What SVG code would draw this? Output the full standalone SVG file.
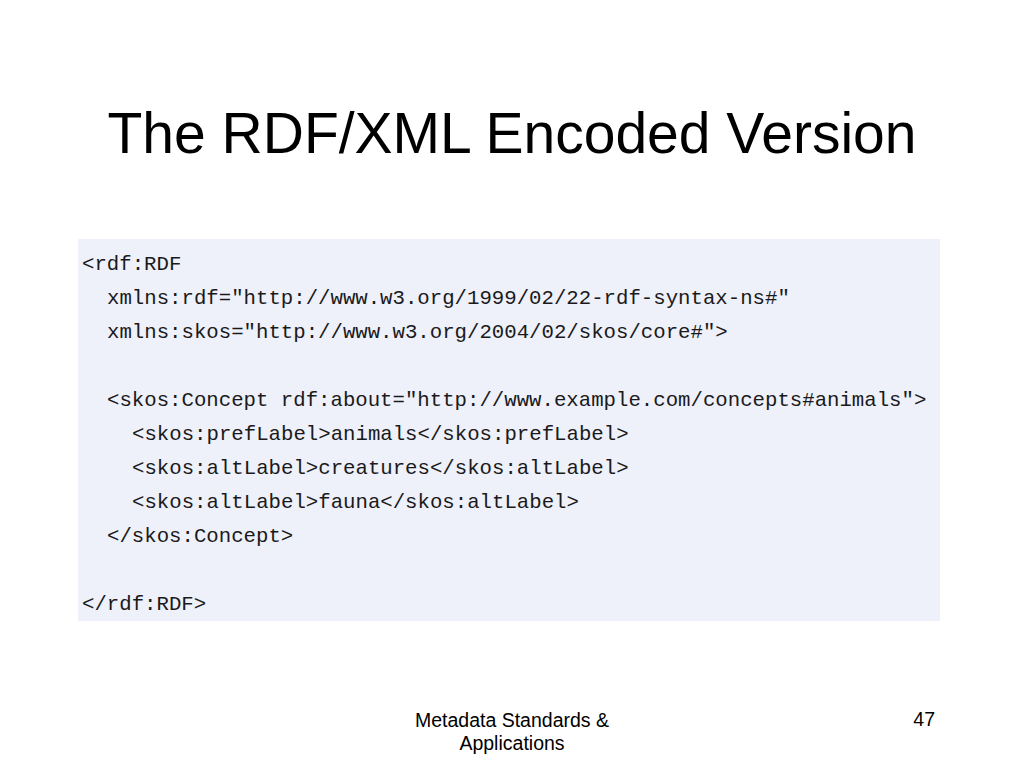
<svg xmlns="http://www.w3.org/2000/svg" width="1024" height="768" viewBox="0 0 1024 768">
<style>
.title{font-family:"Liberation Sans",Arial,sans-serif;font-size:57px;fill:#000}
.code{font-family:"Liberation Mono","Courier New",monospace;font-size:20.7px;fill:#1a1a1a}
.foot{font-family:"Liberation Sans",Arial,sans-serif;font-size:19.5px;fill:#000}
</style>
<rect width="1024" height="768" fill="#ffffff"/>
<text class="title" x="512" y="153" text-anchor="middle">The RDF/XML Encoded Version</text>
<g id="code-box">
<rect x="78" y="239" width="862" height="382" fill="#eef0fa"/>
<text class="code" x="82" y="270">&lt;rdf:RDF</text>
<text class="code" x="107" y="304">xmlns:rdf="http://www.w3.org/1999/02/22-rdf-syntax-ns#"</text>
<text class="code" x="107" y="338">xmlns:skos="http://www.w3.org/2004/02/skos/core#"&gt;</text>
<text class="code" x="107" y="406">&lt;skos:Concept rdf:about="http://www.example.com/concepts#animals"&gt;</text>
<text class="code" x="132" y="440">&lt;skos:prefLabel&gt;animals&lt;/skos:prefLabel&gt;</text>
<text class="code" x="132" y="474">&lt;skos:altLabel&gt;creatures&lt;/skos:altLabel&gt;</text>
<text class="code" x="132" y="508">&lt;skos:altLabel&gt;fauna&lt;/skos:altLabel&gt;</text>
<text class="code" x="107" y="542">&lt;/skos:Concept&gt;</text>
<text class="code" x="82" y="610">&lt;/rdf:RDF&gt;</text>
</g>
<text class="foot" x="512" y="727" text-anchor="middle">Metadata Standards &amp;</text>
<text class="foot" x="512" y="750" text-anchor="middle">Applications</text>
<text class="foot" x="935" y="726" text-anchor="end">47</text>
</svg>
